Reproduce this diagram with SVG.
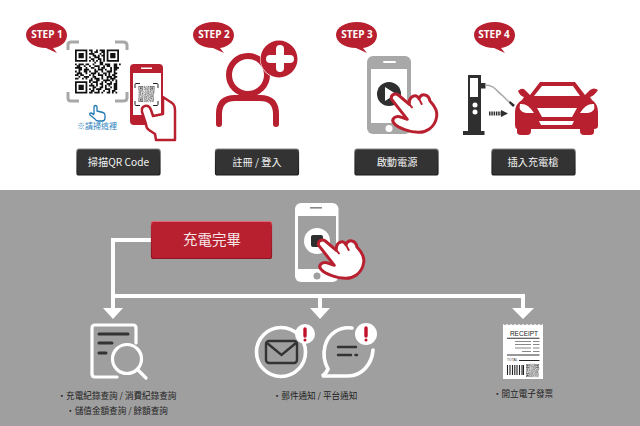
<svg xmlns="http://www.w3.org/2000/svg" width="640" height="426" viewBox="0 0 640 426">
<style>
text{font-family:"Noto Sans CJK TC","Noto Sans CJK SC",sans-serif}
.step{font-family:"Open Sans","Noto Sans",sans-serif;font-weight:700;font-size:10px;fill:#fff;text-anchor:middle}
.btn{fill:#333;stroke:url(#rimDark);stroke-width:1.2}
.btn-t{font-size:10.2px;fill:#f2f2f2;text-anchor:middle}
.cap{font-size:8.6px;fill:#222;text-anchor:middle}
.red{fill:#b8202f}
.dark{fill:#2f2f2f}
.flow{fill:none;stroke:#fff;stroke-width:4}
.head{fill:#fff}
.hand{fill:#fff;stroke:#b8202f;stroke-width:9;stroke-linejoin:round;stroke-linecap:round}
.crease{fill:none;stroke:#b8202f;stroke-width:6;stroke-linecap:round}
.wl{fill:none;stroke:#fff;stroke-linecap:round}
.dl{fill:none;stroke:#333;stroke-linecap:round}
.rl{fill:none;stroke:#555;stroke-width:.7}
</style>
<defs>
<linearGradient id="rimDark" x1="0" y1="0" x2="0" y2="1"><stop offset="0" stop-color="#8a8a8a"/><stop offset=".15" stop-color="#333"/><stop offset="1" stop-color="#1a1a1a"/></linearGradient>
<linearGradient id="rimRed" x1="0" y1="0" x2="0" y2="1"><stop offset="0" stop-color="#e26a74"/><stop offset=".12" stop-color="#b8202f"/><stop offset="1" stop-color="#8e1522"/></linearGradient>
<!-- speech bubble behind each step label, tail tip at 31,31 -->
<symbol id="bubble" viewBox="0 0 42 32" width="42" height="32" overflow="visible">
<path class="red" d="M21 0C32 0 41 5.500 41 13C41 20 35 25 27 26L31 31L20 26C9 26 0 20 0 13C0 5.500 9 0 21 0Z"/>
</symbol>
<!-- module grid shared by the code graphics -->
<symbol id="qr" viewBox="0 0 25 25" overflow="visible">
<path fill="#111" fill-rule="evenodd" d="M0 0h7v7h-7zM1 1v5h5v-5zM2 2h3v3h-3zM18 0h7v7h-7zM19 1v5h5v-5zM20 2h3v3h-3zM0 18h7v7h-7zM1 19v5h5v-5zM2 20h3v3h-3z"/>
<path fill="none" stroke="#111" d="M8 .5h2m2 0h1m1 0h3M9 1.500h1m1 0h2m2 0h2M8 2.500h3m3 0h1m1 0h1M10 3.500h2m1 0h1m1 0h2M8 4.500h1m2 0h3m2 0h1M9 5.500h2m2 0h2m1 0h1M8 6.500h1m1 0h1m1 0h1m1 0h1m1 0h1M11 7.500h1m2 0h2M0 8.500h1m1 0h3m1 0h2m2 0h1m3 0h2m1 0h3m2 0h2m1 0h1M1 9.500h2m2 0h1m2 0h1m2 0h3m2 0h1m1 0h2m2 0h2M0 10.500h4m2 0h1m2 0h2m2 0h1m1 0h2m3 0h1m1 0h3M2 11.500h2m1 0h3m3 0h1m1 0h3m1 0h1m2 0h1m1 0h2M0 12.500h1m1 0h1m2 0h2m1 0h1m2 0h2m2 0h1m2 0h3m1 0h1M1 13.500h3m2 0h1m2 0h3m1 0h1m2 0h2m1 0h1m2 0h2M0 14.500h2m1 0h2m3 0h1m1 0h1m2 0h3m1 0h1m1 0h1m1 0h2M2 15.500h1m2 0h3m2 0h2m3 0h1m2 0h3m1 0h2M0 16.500h2m2 0h1m1 0h1m2 0h1m1 0h3m1 0h1m2 0h1m1 0h3M8 17.500h2m2 0h2m2 0h4m1 0h1m1 0h1M8 18.500h1m1 0h3m2 0h1m1 0h1m2 0h1m2 0h1M9 19.500h1m2 0h1m1 0h2m2 0h3m1 0h2M8 20.500h3m1 0h1m2 0h1m1 0h1m1 0h1m2 0h2M10 21.500h2m2 0h2m1 0h1m2 0h1m1 0h2M8 22.500h1m1 0h1m1 0h3m2 0h3m2 0h2M9 23.500h2m2 0h1m2 0h1m2 0h1m1 0h2M8 24.500h2m1 0h3m1 0h1m2 0h2m1 0h1m1 0h1"/>
</symbol>
<!-- pointing hand in the outline used on the phones, drawn at a 3x grid -->
<g id="pointer">
<path class="hand" d="M215 298C210 285 225 278 235 285L268 313C266 288 288 280 297 296C304 278 326 282 330 303C346 320 353 335 350 350C345 385 315 398 295 397C270 397 235 385 222 370C212 358 225 345 245 352L262 358Z"/>
<path class="crease" d="M268 313L276 322M297 296L305 312"/>
</g>
</defs>

<rect width="640" height="426" fill="#fff"/>
<rect y="190" width="640" height="236" fill="#9f9f9f"/>

<g id="step1">
<use href="#bubble" x="26" y="22"/>
<text class="step" x="47" y="38">STEP 1</text>
<g id="scan-code">
<path d="M68 50V45Q68 42 71 42H79M115 42H123Q127 42 127 45V50M68 92V98Q68 101 71 101H79M115 101H123Q127 101 127 98V92" fill="none" stroke="#a8a8a8" stroke-width="3"/>
<use href="#qr" x="75" y="49" width="44" height="45"/>
</g>
<g id="scan-hint">
<path d="M94 114V107a1.500 1.500 0 0 1 3 0V111l6 1.500q2 .5 2 3V118q0 3-3 3h-4q-2 0-3-2L90 115q-1-2 1-2q1 0 3 2" fill="#fff" stroke="#1f78b4" stroke-width="1.300" stroke-linejoin="round"/>
<text x="97" y="129" font-size="8" fill="#2a80bd" text-anchor="middle">※請掃這裡</text>
</g>
<g id="scan-phone">
<rect x="130" y="64" width="33" height="61" rx="4" class="red"/>
<rect x="133" y="73" width="28" height="42" fill="#fff"/>
<rect x="141" y="67.500" width="11" height="1.500" fill="#fff"/>
<use href="#qr" x="138.500" y="86" width="16" height="16" opacity=".7"/>
<path d="M135 88V84.500Q135 83.500 136 83.500H140M153 83.500H157Q158 83.500 158 84.500V88M135 101V104.500Q135 105.500 136 105.500H140M153 105.500H157Q158 105.500 158 104.500V101" fill="none" stroke="#222" stroke-width="1"/>
<path d="M163 97L172 103Q175 105 175 110V140H156L155 134L149 130Q146 128 146 124L142 112Q141 107 145 106Q149 105 151 110L153 116L163 114Z" fill="#fff" stroke="#b8202f" stroke-width="2.500" stroke-linejoin="round"/>
</g>
<g id="step1-button">
<rect class="btn" x="77" y="149" width="83" height="26" rx="2"/>
<text class="btn-t" x="118.500" y="166">掃描QR Code</text>
</g>
</g>

<g id="step2">
<use href="#bubble" x="193" y="22"/>
<text class="step" x="214" y="38">STEP 2</text>
<g id="member-icon">
<circle cx="248" cy="75" r="19" fill="none" stroke="#b8202f" stroke-width="6"/>
<path d="M219 124V114Q219 98 235 98H260Q276 98 276 114V124" fill="none" stroke="#b8202f" stroke-width="6" stroke-linecap="round"/>
<circle cx="279" cy="59" r="19" fill="#fff"/>
<circle cx="279" cy="59" r="18.500" class="red"/>
<path d="M280 49V68M270 59H290" class="wl" stroke-width="8"/>
</g>
<g id="step2-button">
<rect class="btn" x="215.500" y="149" width="83" height="26" rx="2"/>
<text class="btn-t" x="257" y="166">註冊 / 登入</text>
</g>
</g>

<g id="step3">
<use href="#bubble" x="336" y="22"/>
<text class="step" x="357" y="38">STEP 3</text>
<g id="power-phone">
<rect x="367" y="56" width="44" height="78" rx="6" fill="#a8a8a8"/>
<rect x="371" y="69" width="36" height="54" fill="#fff"/>
<rect x="383" y="61" width="13" height="2" rx="1" fill="#fff"/>
<circle cx="389" cy="128.500" r="3.500" fill="#fff"/>
<circle cx="389" cy="94" r="12" class="dark"/>
<path d="M385 87L396 94L385 101Z" fill="#fff"/>
<use href="#pointer" transform="translate(320 0) scale(.3333)"/>
</g>
<g id="step3-button">
<rect class="btn" x="355" y="149" width="83" height="26" rx="2"/>
<text class="btn-t" x="397" y="166">啟動電源</text>
</g>
</g>

<g id="step4">
<use href="#bubble" x="474" y="22"/>
<text class="step" x="494" y="38">STEP 4</text>
<g id="charger">
<path d="M468 75H481V131H484.500V135H463V131H468Z" class="dark"/>
<rect x="470" y="78" width="8" height="19" fill="#fff"/>
<circle cx="475" cy="105" r="2.500" fill="#fff"/>
<circle cx="475" cy="112" r="2.500" fill="#fff"/>
<rect x="481" y="83" width="4.500" height="5.500" class="dark"/>
<path d="M485 85C495 85 496 91 503 96C506 99 508 102 511 103" fill="none" stroke="#aaa" stroke-width="1.500"/>
<path d="M510 101L515 105L513 107L509 103Z" class="dark"/>
<path d="M489 113.500h12" fill="none" stroke="#2f2f2f" stroke-width="4" stroke-dasharray="1.500 .8"/>
<path d="M501 110V117L508 113.500Z" class="dark"/>
</g>
<g id="car">
<path class="red" d="M540 82H575L585 95L590 90Q594 87 598 90Q594 96 590 97L592 100Q598 104 598 112V126Q598 129 594 129V132Q594 135 590 135H584Q580 135 580 131V129H531V131Q531 135 527 135H521Q517 135 517 132V129Q515 128 515 125V112Q515 104 522 100L524 97Q520 96 518 91Q522 87 525 90L530 95Z"/>
<path d="M542 86H573L580 96H534Z" fill="#fff"/>
<path d="M520 104Q528 103 534 113H526Q518 112 520 104ZM594 104Q586 103 580 113H588Q596 112 594 104Z" fill="#fff"/>
<path d="M537 108H577L572 117H542Z" fill="#fff"/>
<path d="M539 121H574L572 125H541Z" fill="#fff"/>
</g>
<g id="step4-button">
<rect class="btn" x="492" y="149" width="83" height="26" rx="2"/>
<text class="btn-t" x="533" y="166">插入充電槍</text>
</g>
</g>

<g id="connectors">
<path class="flow" d="M151 240H113V308"/>
<path class="flow" d="M113 296H523V308M320 296V308"/>
<path class="head" d="M103 308H123L113 319ZM310 308H330L320 319ZM512 308H534L523 319Z"/>
</g>

<g id="charge-done">
<rect x="151.500" y="221.500" width="120" height="37" rx="2" fill="#b8202f" stroke="url(#rimRed)" stroke-width="1.200"/>
<text x="212" y="245" font-size="14.500" fill="#f5e6e8" text-anchor="middle">充電完畢</text>
</g>

<g id="stop-phone">
<rect x="295" y="203" width="43.500" height="79" rx="6" fill="#fff"/>
<rect x="298" y="216" width="38" height="53" fill="#9f9f9f"/>
<rect x="310" y="207" width="12" height="1.600" fill="#888"/>
<circle cx="317" cy="276" r="3.500" fill="#9f9f9f"/>
<circle cx="317" cy="241" r="13" fill="#fff"/>
<rect x="311" y="235" width="12" height="12" rx="2" class="dark"/>
<use href="#pointer" transform="translate(247 146) scale(.3333)"/>
</g>

<g id="records">
<path class="wl" stroke-width="3.200" d="M136 343V328Q136 325 133 325H95Q92 325 92 328V374Q92 377 95 377H117"/>
<path class="dl" stroke-width="3" d="M99 334H128M99 343H112M99 353H106"/>
<circle cx="127" cy="359" r="14.500" class="wl" stroke-width="3.200"/>
<path class="wl" stroke-width="3.200" d="M138 370L146 378"/>
<text class="cap" x="117" y="399">・充電紀錄查詢 / 消費紀錄查詢</text>
<text class="cap" x="117" y="413.500">・儲值金額查詢 / 餘額查詢</text>
</g>

<g id="mail-notice">
<circle cx="281" cy="352" r="24.500" class="wl" stroke-width="3.600"/>
<rect x="266" y="341" width="31" height="22" rx="3" fill="none" stroke="#333" stroke-width="2.400"/>
<path d="M267 343L281.500 355L296 343" fill="none" stroke="#333" stroke-width="2.400"/>
<circle cx="305" cy="334" r="10" fill="#fff"/>
<path d="M305 329V336" stroke="#c0102a" stroke-width="3.400" stroke-linecap="round"/>
<circle cx="305" cy="340" r="1.500" fill="#c0102a"/>
</g>

<g id="platform-notice">
<path class="wl" stroke-width="3.600" d="M352 328A24 24 0 0 0 325 346Q322 358 328 369Q326 374 322 376H348C362 376 372 364 373 350"/>
<path class="dl" stroke-width="2.400" d="M338 347H356M338 355H351M355.500 355H357"/>
<circle cx="366" cy="334" r="11" fill="#fff"/>
<path d="M366 328V336" stroke="#c0102a" stroke-width="3.400" stroke-linecap="round"/>
<circle cx="366" cy="340" r="1.500" fill="#c0102a"/>
<text class="cap" x="315" y="399">・郵件通知 / 平台通知</text>
</g>

<g id="receipt">
<path fill="#fff" d="M503 379V324l2 1.200l2-1.200l2 1.200l2-1.200l2 1.200l2-1.200l2 1.200l2-1.200l2 1.200l2-1.200l2 1.200l2-1.200l2 1.200l2-1.200l2 1.200l2-1.200l2 1.200l2-1.200l2 1.200l2-1.200V379Z"/>
<text x="524" y="336" font-size="6.500" fill="#222" text-anchor="middle" style="font-family:'Liberation Sans',sans-serif">RECEIPT</text>
<path d="M507 338.200H539.500M507 355H539.500" stroke="#333" stroke-width="1.100"/>
<path class="rl" d="M515 341.500H531M533 341.500H539.500M515 344.500H531M533 344.500H539.500M515 348H531M533 348H539.500M522 351.500H531M533 351.500H539.500"/>
<text x="507" y="361" font-size="3.400" fill="#333" style="font-family:'Liberation Sans',sans-serif">TOTAL</text>
<path d="M519 360.500H539.500" stroke="#222" stroke-width="1"/>
<path d="M507.500 365V375M510 365V375M512.500 365V375M514.800 365V375M517 365V375M519.500 365V375M522 365V375M523.500 365V375" stroke="#222" stroke-width="1.100"/>
<use href="#qr" x="526" y="364" width="13" height="13" opacity=".75"/>
<text class="cap" x="523" y="397">・開立電子發票</text>
</g>
</svg>
